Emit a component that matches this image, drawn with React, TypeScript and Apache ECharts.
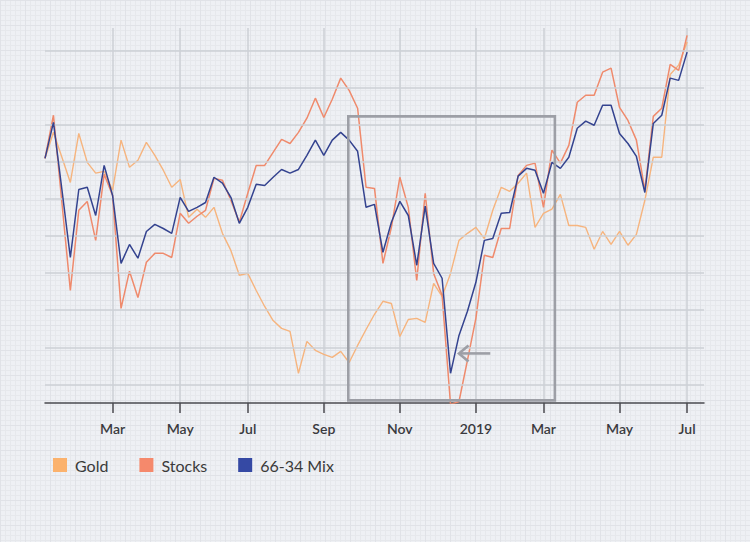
import React, { useEffect, useRef } from "react";
import * as echarts from "echarts";

// Sample dates (one point about every five trading days)
const dates = [
  "2018-01-02", "2018-01-09", "2018-01-17", "2018-01-24", "2018-01-31", "2018-02-07", "2018-02-14", "2018-02-22",
  "2018-03-01", "2018-03-09", "2018-03-16", "2018-03-23", "2018-04-02", "2018-04-09", "2018-04-16", "2018-04-24",
  "2018-05-01", "2018-05-09", "2018-05-17", "2018-05-25", "2018-06-01", "2018-06-08", "2018-06-15", "2018-06-25",
  "2018-07-02", "2018-07-09", "2018-07-16", "2018-07-23", "2018-07-30", "2018-08-06", "2018-08-13", "2018-08-20",
  "2018-08-27", "2018-09-04", "2018-09-11", "2018-09-18", "2018-09-25", "2018-10-02", "2018-10-09", "2018-10-16",
  "2018-10-23", "2018-10-30", "2018-11-06", "2018-11-13", "2018-11-20", "2018-11-27", "2018-12-04", "2018-12-11",
  "2018-12-18", "2018-12-24", "2018-12-31", "2019-01-07", "2019-01-14", "2019-01-22", "2019-01-29", "2019-02-05",
  "2019-02-12", "2019-02-20", "2019-02-27", "2019-03-06", "2019-03-13", "2019-03-20", "2019-03-27", "2019-04-03",
  "2019-04-10", "2019-04-17", "2019-04-24", "2019-04-30", "2019-05-06", "2019-05-13", "2019-05-20", "2019-05-28",
  "2019-06-03", "2019-06-10", "2019-06-17", "2019-06-24", "2019-07-01",
];

const gold = [
  60.9, 67.9, 61.2, 54.4, 67.6, 59.8, 56.9, 57.4, 52.3, 65.8,
  58.5, 60.4, 65.2, 61.7, 57.7, 53.1, 55.2, 45.0, 47.2, 45.0,
  47.7, 40.7, 36.1, 29.4, 29.9, 25.3, 21.0, 17.2, 15.1, 14.3,
  3.0, 11.6, 9.2, 8.1, 7.3, 8.9, 5.9, 10.5, 14.8, 18.9,
  22.4, 21.8, 12.9, 17.5, 17.8, 16.7, 27.2, 23.7, 29.9, 38.8,
  40.7, 42.3, 39.3, 46.9, 53.1, 52.0, 54.2, 56.9, 42.3, 46.1,
  47.2, 51.2, 42.8, 42.8, 42.3, 36.4, 41.2, 37.7, 41.2, 37.5,
  40.4, 49.6, 61.2, 61.2, 83.5, 86.0, 92.2,
];

const stocks = [
  60.9, 72.5, 49.0, 25.3, 46.9, 49.3, 38.8, 56.6, 50.9, 20.5,
  30.5, 23.4, 32.9, 35.3, 35.3, 34.2, 46.1, 43.4, 45.3, 46.9,
  55.5, 55.0, 49.6, 43.7, 51.5, 59.0, 59.0, 62.5, 66.0, 64.9,
  67.9, 71.7, 77.1, 71.9, 76.8, 82.5, 79.2, 74.4, 53.1, 52.8,
  32.6, 42.3, 55.8, 47.7, 28.0, 51.5, 29.9, 24.0, -5.4, -4.6,
  6.5, 17.8, 34.8, 34.2, 42.0, 42.0, 56.3, 59.0, 59.6, 47.7,
  63.1, 59.6, 64.4, 76.0, 77.9, 77.9, 84.1, 85.2, 74.6, 71.1,
  65.8, 52.3, 72.2, 74.4, 86.2, 84.6, 94.0,
];

const mix = [
  60.9, 70.6, 52.5, 34.2, 52.5, 53.1, 45.5, 59.0, 50.9, 32.6,
  37.7, 34.0, 41.2, 43.1, 42.0, 40.7, 50.4, 46.6, 47.7, 49.0,
  55.8, 54.2, 50.4, 43.4, 47.7, 53.9, 53.6, 55.8, 57.9, 56.9,
  57.9, 61.7, 65.8, 61.7, 65.8, 67.9, 65.8, 62.8, 47.7, 48.5,
  35.6, 43.7, 49.3, 45.5, 32.1, 48.0, 32.6, 28.6, 3.0, 13.2,
  19.7, 27.5, 38.8, 39.3, 46.1, 46.3, 56.1, 58.2, 57.7, 51.5,
  59.8, 58.2, 61.2, 69.0, 70.9, 69.8, 75.2, 75.2, 67.6, 64.9,
  61.4, 51.7, 70.3, 72.5, 82.5, 81.9, 89.5,
];

const seriesNames = ["Gold", "Stocks", "66-34 Mix"];
const monthNames = ["Jan", "Feb", "Mar", "Apr", "May", "Jun", "Jul", "Aug", "Sep", "Oct", "Nov", "Dec"];
const gridValues = [0, 10, 20, 30, 40, 50, 60, 70, 80, 90];

// Highlighted period (category index range, value range) and arrow annotation
const highlightX = [35.9, 60.35];
const highlightY = [72.2, -4.3];
const arrowTip = [49.0, 8.35];
const arrowTail = [52.7, 8.35];

const monthOf = (d: string) => parseInt(d.slice(5, 7), 10);
const isTick = (i: number) =>
  i > 0 && i < dates.length && monthOf(dates[i]) !== monthOf(dates[i - 1]) && monthOf(dates[i]) % 2 === 1;
const tickLabel = (d: string) => (monthOf(d) === 1 ? d.slice(0, 4) : monthNames[monthOf(d) - 1]);

const FONT = "Lato";

export default function App() {
  const ref = useRef<HTMLDivElement>(null);

  useEffect(() => {
    if (!ref.current) return;
    const chart = echarts.init(ref.current, undefined, { renderer: "svg" });

    const option: any = {
      animation: false,
      backgroundColor: "transparent",
      grid: { left: 45, right: 46, top: 28, bottom: 139, containLabel: false },
      legend: {
        data: seriesNames,
        left: 53,
        top: 457,
        padding: 0,
        icon: "rect",
        itemWidth: 14,
        itemHeight: 14,
        itemGap: 31,
        selectedMode: false,
        textStyle: { fontFamily: FONT, fontSize: 16, color: "#3a3a3a", padding: [0, 0, 0, 3] },
      },
      xAxis: {
        type: "category",
        data: dates,
        boundaryGap: false,
        max: 78,
        axisLine: { show: true, onZero: false, lineStyle: { color: "#4a4a4f", width: 1.5 } },
        axisTick: {
          show: true,
          inside: false,
          length: 10,
          interval: (i: number) => isTick(i),
          lineStyle: { color: "#4a4a4f", width: 1.5 },
        },
        axisLabel: {
          interval: (i: number) => isTick(i),
          formatter: (v: string) => tickLabel(v),
          margin: 18,
          fontFamily: FONT,
          fontSize: 14,
          fontWeight: 600,
          color: "#3a3a3e",
        },
        splitLine: {
          show: true,
          interval: (i: number) => isTick(i),
          lineStyle: { color: "#cdd0d6", width: 1.5 },
        },
      },
      yAxis: {
        type: "value",
        min: -5,
        max: 96,
        axisLine: { show: false },
        axisTick: { show: false },
        axisLabel: { show: false },
        splitLine: { show: false },
      },
      series: [
        {
          name: "__grid",
          type: "line",
          data: [],
          silent: true,
          z: 1,
          markLine: {
            silent: true,
            symbol: ["none", "none"],
            label: { show: false },
            lineStyle: { color: "#cdd0d6", width: 1.5, type: "solid" },
            emphasis: { disabled: true },
            data: gridValues.map((v) => ({ yAxis: v })),
          },
        },
        {
          name: seriesNames[0],
          type: "line",
          data: gold,
          showSymbol: false,
          symbol: "none",
          z: 3,
          itemStyle: { color: "#fbb26d" },
          lineStyle: { color: "#f6b47e", width: 1.4 },
        },
        {
          name: seriesNames[1],
          type: "line",
          data: stocks,
          showSymbol: false,
          symbol: "none",
          z: 4,
          itemStyle: { color: "#f5896c" },
          lineStyle: { color: "#ef8a6c", width: 1.5 },
        },
        {
          name: seriesNames[2],
          type: "line",
          data: mix,
          showSymbol: false,
          symbol: "none",
          z: 5,
          itemStyle: { color: "#3549a4" },
          lineStyle: { color: "#34438f", width: 1.5 },
        },
      ],
    };

    chart.setOption(option);

    const toPx = (idx: number, v: number) => {
      const i0 = Math.floor(idx);
      const f = idx - i0;
      const a = chart.convertToPixel({ gridIndex: 0 }, [i0, v]) as number[];
      const b = chart.convertToPixel({ gridIndex: 0 }, [i0 + 1, v]) as number[];
      return [a[0] + f * (b[0] - a[0]), a[1]];
    };

    const p1 = toPx(highlightX[0], highlightY[0]);
    const p2 = toPx(highlightX[1], highlightY[1]);
    const tip = toPx(arrowTip[0], arrowTip[1]);
    const tail = toPx(arrowTail[0], arrowTail[1]);
    const annColor = "#9d9fa6";

    chart.setOption({
      graphic: [
        {
          type: "rect",
          z: 10,
          silent: true,
          shape: { x: p1[0], y: p1[1], width: p2[0] - p1[0], height: p2[1] - p1[1] },
          style: { fill: "none", stroke: annColor, lineWidth: 2.6 },
        },
        {
          type: "line",
          z: 10,
          silent: true,
          shape: { x1: tail[0], y1: tail[1], x2: tip[0] + 1, y2: tip[1] },
          style: { stroke: annColor, lineWidth: 2.6 },
        },
        {
          type: "polyline",
          z: 10,
          silent: true,
          shape: {
            points: [
              [tip[0] + 9.5, tip[1] - 8],
              [tip[0], tip[1]],
              [tip[0] + 9.5, tip[1] + 8],
            ],
          },
          style: { fill: "none", stroke: annColor, lineWidth: 2.6, lineJoin: "miter" },
        },
      ],
    });

    return () => chart.dispose();
  }, []);

  return (
    <div
      style={{
        position: "fixed",
        left: 0,
        top: 0,
        width: 750,
        height: 542,
        backgroundColor: "#eef0f4",
        backgroundImage:
          "linear-gradient(#e0e2e7 1px, transparent 1px), linear-gradient(90deg, #e0e2e7 1px, transparent 1px), linear-gradient(#e6e8ec 1px, transparent 1px), linear-gradient(90deg, #e6e8ec 1px, transparent 1px)",
        backgroundSize: "25px 25px, 25px 25px, 5px 5px, 5px 5px",
      }}
    >
      <div ref={ref} style={{ width: 750, height: 542 }} />
    </div>
  );
}
